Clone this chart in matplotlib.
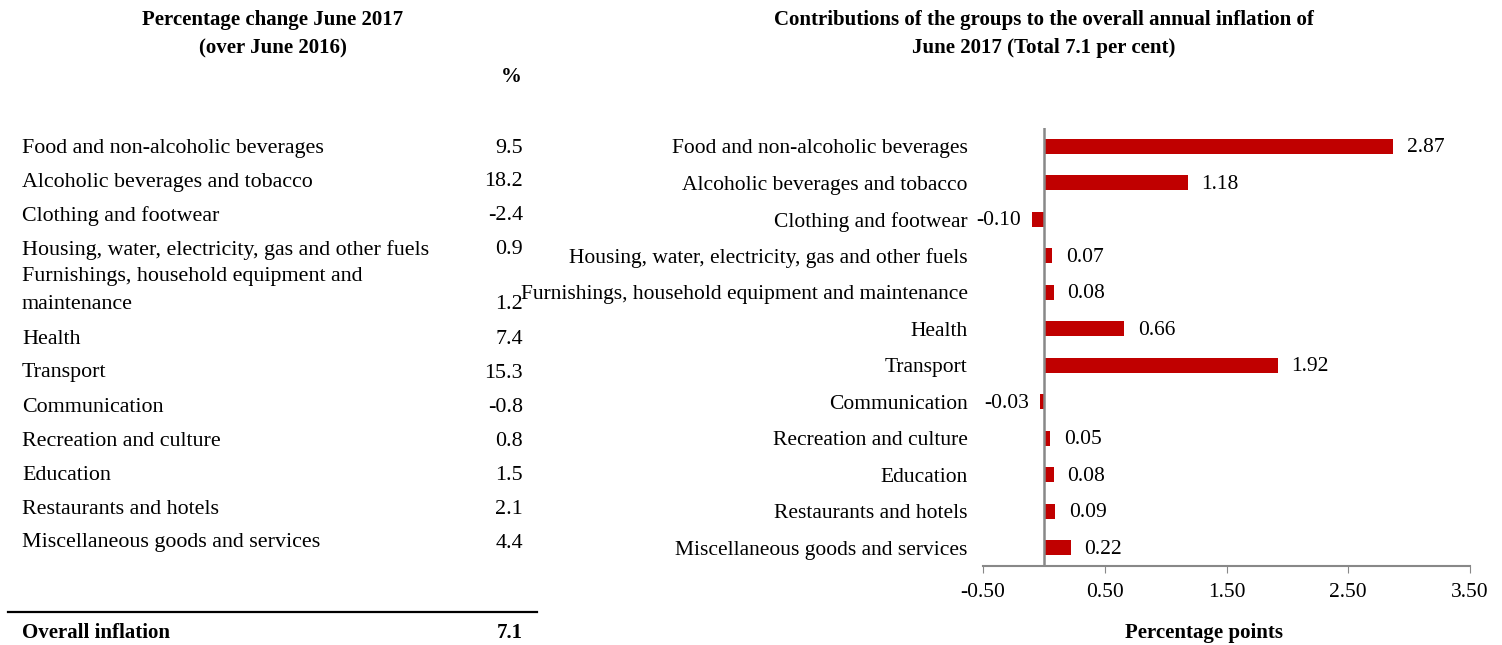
import matplotlib.pyplot as plt

plt.rcParams['font.family'] = ['Liberation Serif', 'DejaVu Serif']

W, H = 1502, 645

table_labels = [
    "Food and non-alcoholic beverages",
    "Alcoholic beverages and tobacco",
    "Clothing and footwear",
    "Housing, water, electricity, gas and other fuels",
    "Furnishings, household equipment and\nmaintenance",
    "Health",
    "Transport",
    "Communication",
    "Recreation and culture",
    "Education",
    "Restaurants and hotels",
    "Miscellaneous goods and services",
]
pct_change = [9.5, 18.2, -2.4, 0.9, 1.2, 7.4, 15.3, -0.8, 0.8, 1.5, 2.1, 4.4]
overall = 7.1

chart_labels = [
    "Food and non-alcoholic beverages",
    "Alcoholic beverages and tobacco",
    "Clothing and footwear",
    "Housing, water, electricity, gas and other fuels",
    "Furnishings, household equipment and maintenance",
    "Health",
    "Transport",
    "Communication",
    "Recreation and culture",
    "Education",
    "Restaurants and hotels",
    "Miscellaneous goods and services",
]
contrib = [2.87, 1.18, -0.10, 0.07, 0.08, 0.66, 1.92, -0.03, 0.05, 0.08, 0.09, 0.22]
xticks = [-0.5, 0.5, 1.5, 2.5, 3.5]


def fx(px):
    return px / W


def fy(py):
    return 1 - py / H


fig = plt.figure(figsize=(W / 100, H / 100), dpi=100)

# left: table of percentage changes
fig.text(fx(273), fy(20), "Percentage change June 2017", ha='center', va='center',
         fontsize=15, fontweight='bold')
fig.text(fx(273), fy(48), "(over June 2016)", ha='center', va='center',
         fontsize=15, fontweight='bold')
fig.text(fx(522), fy(77), "%", ha='right', va='center', fontsize=15, fontweight='bold')

y = 148
for lab, val in zip(table_labels, pct_change):
    lines = lab.split('\n')
    if len(lines) > 1:
        y -= 7
    for k, ln in enumerate(lines):
        fig.text(fx(22), fy(y + 28 * k), ln, ha='left', va='center', fontsize=15.8)
    y_last = y + 28 * (len(lines) - 1)
    fig.text(fx(523), fy(y_last), f"{val:.1f}", ha='right', va='center', fontsize=15.8)
    y = y_last + 34

fig.add_artist(plt.Line2D([fx(8), fx(537)], [fy(612), fy(612)], color='black', lw=1.6))
fig.text(fx(22), fy(633), "Overall inflation", ha='left', va='center',
         fontsize=15, fontweight='bold')
fig.text(fx(523), fy(633), f"{overall:.1f}", ha='right', va='center',
         fontsize=15, fontweight='bold')

# right: contributions bar chart
ax = fig.add_axes([fx(983), fy(566), fx(1470) - fx(983), (566 - 128) / H])
pos = list(range(len(chart_labels)))
ax.barh(pos, contrib, height=0.4, color='#C00000')
ax.set_ylim(len(chart_labels) - 0.5, -0.5)
ax.set_xlim(-0.5, 3.5)
ax.set_xticks(xticks)
ax.set_xticklabels([f"{t:.2f}" for t in xticks], fontsize=15.5)
ax.set_yticks(pos)
ax.set_yticklabels(chart_labels, fontsize=15.5)
ax.tick_params(axis='y', length=0, pad=11)
ax.tick_params(axis='x', length=5, color='#888888', pad=7)
for s in ['top', 'right', 'left']:
    ax.spines[s].set_visible(False)
ax.spines['bottom'].set_color('#888888')
ax.spines['bottom'].set_linewidth(1.5)
ax.axvline(0, color='#888888', lw=1.8, zorder=3)

for p, v in zip(pos, contrib):
    if v >= 0:
        ax.annotate(f"{v:.2f}", (v, p), xytext=(10, -1), textcoords='offset points',
                    ha='left', va='center', fontsize=15.5)
    else:
        ax.annotate(f"{v:.2f}", (v, p), xytext=(-8, -1), textcoords='offset points',
                    ha='right', va='center', fontsize=15.5)

fig.text(fx(1044), fy(20), "Contributions of the groups to the overall annual inflation of",
         ha='center', va='center', fontsize=15, fontweight='bold')
fig.text(fx(1044), fy(48), "June 2017 (Total 7.1 per cent)",
         ha='center', va='center', fontsize=15, fontweight='bold')
fig.text(fx(1204), fy(633), "Percentage points", ha='center', va='center',
         fontsize=15, fontweight='bold')

fig.savefig("out.png", dpi=100)
